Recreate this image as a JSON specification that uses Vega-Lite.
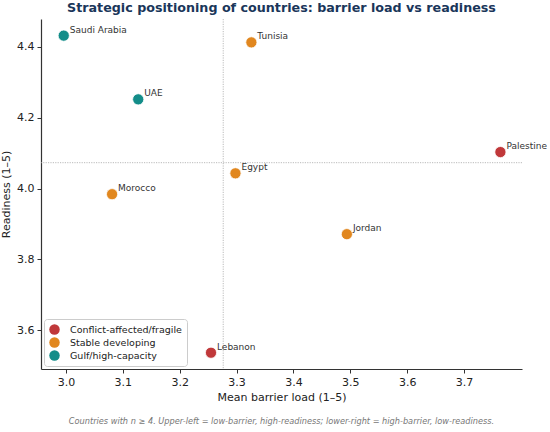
{
  "$schema": "https://vega.github.io/schema/vega-lite/v6.json",
  "background": "white",
  "padding": {"left": 0, "top": 1, "right": 0, "bottom": 0},
  "title": {
    "text": "Strategic positioning of countries: barrier load vs readiness",
    "font": "DejaVu Sans",
    "fontSize": 12.7,
    "fontWeight": "bold",
    "color": "#1a365a",
    "anchor": "middle",
    "frame": "group",
    "offset": 4
  },
  "config": {
    "font": "DejaVu Sans",
    "view": {"stroke": null},
    "axis": {
      "grid": false,
      "domainColor": "#333333",
      "domainWidth": 1.2,
      "tickColor": "#333333",
      "tickSize": 4,
      "labelFont": "DejaVu Sans",
      "labelFontSize": 11,
      "labelColor": "#222222",
      "labelPadding": 3,
      "titleFont": "DejaVu Sans",
      "titleFontSize": 11,
      "titleFontWeight": "normal",
      "titleColor": "#222222"
    }
  },
  "resolve": {"scale": {"color": "independent"}, "legend": {"color": "independent"}},
  "vconcat": [
    {
      "width": 481,
      "height": 350,
      "title": {
        "text": "Countries with n ≥ 4. Upper-left = low-barrier, high-readiness; lower-right = high-barrier, low-readiness.",
        "orient": "bottom",
        "font": "DejaVu Sans",
        "fontSize": 8.2,
        "fontStyle": "italic",
        "fontWeight": "normal",
        "color": "#777777",
        "anchor": "middle",
        "offset": 16
      },
      "data": {
        "values": [
          {"country": "Saudi Arabia", "barrier": 2.996, "readiness": 4.432, "group": "Gulf/high-capacity"},
          {"country": "UAE", "barrier": 3.127, "readiness": 4.252, "group": "Gulf/high-capacity"},
          {"country": "Tunisia", "barrier": 3.326, "readiness": 4.413, "group": "Stable developing"},
          {"country": "Egypt", "barrier": 3.298, "readiness": 4.043, "group": "Stable developing"},
          {"country": "Morocco", "barrier": 3.081, "readiness": 3.984, "group": "Stable developing"},
          {"country": "Jordan", "barrier": 3.494, "readiness": 3.871, "group": "Stable developing"},
          {"country": "Palestine", "barrier": 3.764, "readiness": 4.103, "group": "Conflict-affected/fragile"},
          {"country": "Lebanon", "barrier": 3.255, "readiness": 3.536, "group": "Conflict-affected/fragile"}
        ]
      },
      "layer": [
        {
          "data": {"values": [{"median_barrier": 3.2765}]},
          "mark": {"type": "rule", "color": "#aaaaaa", "strokeWidth": 0.8, "strokeDash": [1.2, 1.2]},
          "encoding": {"x": {"field": "median_barrier", "type": "quantitative"}}
        },
        {
          "data": {"values": [{"median_readiness": 4.073}]},
          "mark": {"type": "rule", "color": "#aaaaaa", "strokeWidth": 0.8, "strokeDash": [1.2, 1.2]},
          "encoding": {"y": {"field": "median_readiness", "type": "quantitative"}}
        },
        {
          "mark": {"type": "circle", "size": 125, "opacity": 1, "stroke": "white", "strokeWidth": 0.8},
          "encoding": {
            "x": {
              "field": "barrier",
              "type": "quantitative",
              "scale": {"domain": [2.956, 3.802], "nice": false, "zero": false},
              "axis": {"title": "Mean barrier load (1–5)", "values": [3.0, 3.1, 3.2, 3.3, 3.4, 3.5, 3.6, 3.7], "format": ".1f", "titlePadding": 4}
            },
            "y": {
              "field": "readiness",
              "type": "quantitative",
              "scale": {"domain": [3.49, 4.479], "nice": false, "zero": false},
              "axis": {"title": "Readiness (1–5)", "values": [3.6, 3.8, 4.0, 4.2, 4.4], "format": ".1f", "titlePadding": 5}
            },
            "color": {
              "field": "group",
              "type": "nominal",
              "scale": {
                "domain": ["Conflict-affected/fragile", "Stable developing", "Gulf/high-capacity"],
                "range": ["#c0383a", "#e1871f", "#138d89"]
              },
              "legend": {
                "title": null,
                "orient": "bottom-left",
                "offset": 3,
                "fillColor": "white",
                "strokeColor": "#cccccc",
                "cornerRadius": 3,
                "padding": 5,
                "symbolType": "circle",
                "symbolSize": 110,
                "symbolStrokeWidth": 0,
                "symbolOpacity": 1,
                "labelFont": "DejaVu Sans",
                "labelFontSize": 9.5,
                "labelColor": "#222222",
                "labelOffset": 10,
                "rowPadding": 2
              }
            }
          }
        },
        {
          "mark": {"type": "text", "align": "left", "baseline": "middle", "dx": 6, "dy": -6, "fontSize": 9, "color": "#333333", "clip": false},
          "encoding": {
            "x": {"field": "barrier", "type": "quantitative"},
            "y": {"field": "readiness", "type": "quantitative"},
            "text": {"field": "country", "type": "nominal"}
          }
        }
      ]
    }
  ]
}
